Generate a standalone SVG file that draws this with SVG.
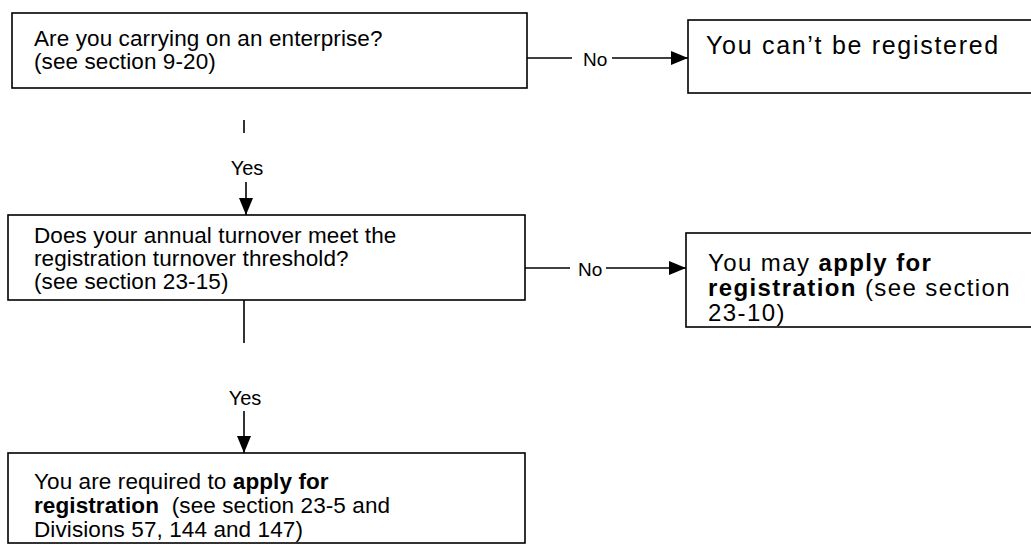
<svg xmlns="http://www.w3.org/2000/svg" width="1031" height="560" viewBox="0 0 1031 560">
<style>
.box{fill:#fff;stroke:#000;stroke-width:1.6}
.t{font-family:"Liberation Sans",Arial,sans-serif;font-size:22.5px;letter-spacing:0.1px;fill:#000}
.tl{font-family:"Liberation Sans",Arial,sans-serif;font-size:24px;letter-spacing:1.4px;fill:#000}
.t2{font-family:"Liberation Sans",Arial,sans-serif;font-size:25px;letter-spacing:1.7px;fill:#000}
.lbl{font-family:"Liberation Sans",Arial,sans-serif;font-size:20px;fill:#000}
.no{font-family:"Liberation Sans",Arial,sans-serif;font-size:19px;fill:#000}
.b{font-weight:bold}
.c{fill:none;stroke:#000;stroke-width:1.6}
</style>
<defs>
<marker id="ah2" viewBox="0 0 10 10" refX="10" refY="5" markerWidth="17" markerHeight="14" markerUnits="userSpaceOnUse" orient="auto" preserveAspectRatio="none">
<path d="M0,0 L10,5 L0,10 Z" fill="#000"/>
</marker>
</defs>
<rect width="1031" height="560" fill="#fff"/>
<g id="connectors">
<line class="c" x1="244" y1="120" x2="244" y2="133"/>
<text class="lbl" x="247" y="175" text-anchor="middle">Yes</text>
<line class="c" x1="246" y1="182" x2="246" y2="215" marker-end="url(#ah2)"/>
<line class="c" x1="244" y1="300" x2="244" y2="343"/>
<text class="lbl" x="245" y="405" text-anchor="middle">Yes</text>
<line class="c" x1="244" y1="411" x2="244" y2="453" marker-end="url(#ah2)"/>
<line class="c" x1="527" y1="58" x2="572" y2="58"/>
<text class="no" x="583" y="66">No</text>
<line class="c" x1="612" y1="58" x2="688" y2="58" stroke-width="3" marker-end="url(#ah2)"/>
<line class="c" x1="525" y1="268" x2="570" y2="268"/>
<text class="no" x="578" y="276">No</text>
<line class="c" x1="606" y1="268" x2="686" y2="268" marker-end="url(#ah2)"/>
</g>
<g id="n1">
<rect class="box" x="12" y="13" width="515" height="75"/>
<text class="t" x="34" y="46">Are you carrying on an enterprise?</text>
<text class="t" x="34" y="69">(see section 9-20)</text>
</g>
<g id="n2">
<rect class="box" x="688" y="20" width="360" height="73"/>
<text class="t2" x="706" y="54">You can’t be registered</text>
</g>
<g id="n3">
<rect class="box" x="8" y="215" width="517" height="85"/>
<text class="t" x="34" y="243">Does your annual turnover meet the</text>
<text class="t" x="34" y="266">registration turnover threshold?</text>
<text class="t" x="34" y="289">(see section 23-15)</text>
</g>
<g id="n4">
<rect class="box" x="686" y="233" width="360" height="94"/>
<text class="tl" x="708" y="271">You may <tspan class="b">apply for</tspan></text>
<text class="tl" x="708" y="296"><tspan class="b">registration</tspan> (see section</text>
<text class="tl" x="708" y="321">23-10)</text>
</g>
<g id="n5">
<rect class="box" x="8" y="453" width="517" height="90"/>
<text class="t" x="34" y="489">You are required to <tspan class="b">apply for</tspan></text>
<text class="t" x="34" y="513"><tspan class="b">registration</tspan>&#160; (see section 23-5 and</text>
<text class="t" x="34" y="537">Divisions 57, 144 and 147)</text>
</g>
</svg>
